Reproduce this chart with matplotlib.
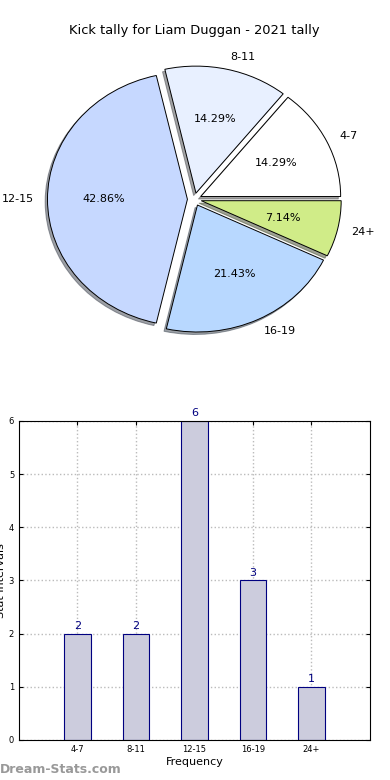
import matplotlib
matplotlib.use("Agg")
import matplotlib.pyplot as plt

categories = ["4-7", "8-11", "12-15", "16-19", "24+"]
counts = [2, 2, 6, 3, 1]
pie_colors = ["#ffffff", "#e8f0ff", "#c6d8ff", "#b8d8ff", "#d0ec88"]
title = "Kick tally for Liam Duggan - 2021 tally"

fig = plt.figure(figsize=(3.9, 7.8), dpi=100)

# Pie
axp = fig.add_axes([0.05, 0.541, 0.897, 0.407])
axp.pie(counts, labels=categories, colors=pie_colors, explode=[0.05] * len(counts),
        autopct="%.2f%%", shadow={"ox": -0.012, "oy": -0.014, "shade": 0.7}, startangle=0,
        wedgeprops=dict(edgecolor="black", linewidth=0.7),
        textprops=dict(fontsize=8))
axp.set_aspect("auto")
axp.set_xlim(-1.25, 1.25)
axp.set_ylim(-1.25, 1.25)
axp.set_title(title, fontsize=9.4, pad=4.5)

# Bars
axb = fig.add_axes([0.0487, 0.0513, 0.9, 0.409])
x = list(range(len(categories)))
bars = axb.bar(x, counts, width=0.45, color="#ccccdd", edgecolor="#000080", linewidth=0.8, zorder=2)
for xi, c in zip(x, counts):
    axb.text(xi, c + 0.05, str(c), ha="center", va="bottom", fontsize=8, color="#000080")
axb.set_xlim(-1, 5)
axb.set_ylim(0, 6)
axb.set_xticks(x)
axb.set_xticklabels(categories)
axb.set_yticks(range(0, 7))
axb.tick_params(axis="both", labelsize=6, direction="in", top=True, right=True, length=3)
axb.grid(True, linestyle=":", color="#bbbbbb", linewidth=1, zorder=0)
axb.set_axisbelow(True)
axb.set_xlabel("Frequency", fontsize=8, labelpad=2)
axb.set_ylabel("Stat Intervals", fontsize=8, labelpad=2)

fig.text(0.0, 0.005, "Dream-Stats.com", fontsize=9, color="#999999", fontweight="bold", ha="left", va="bottom")

fig.savefig("out.png", dpi=100)
